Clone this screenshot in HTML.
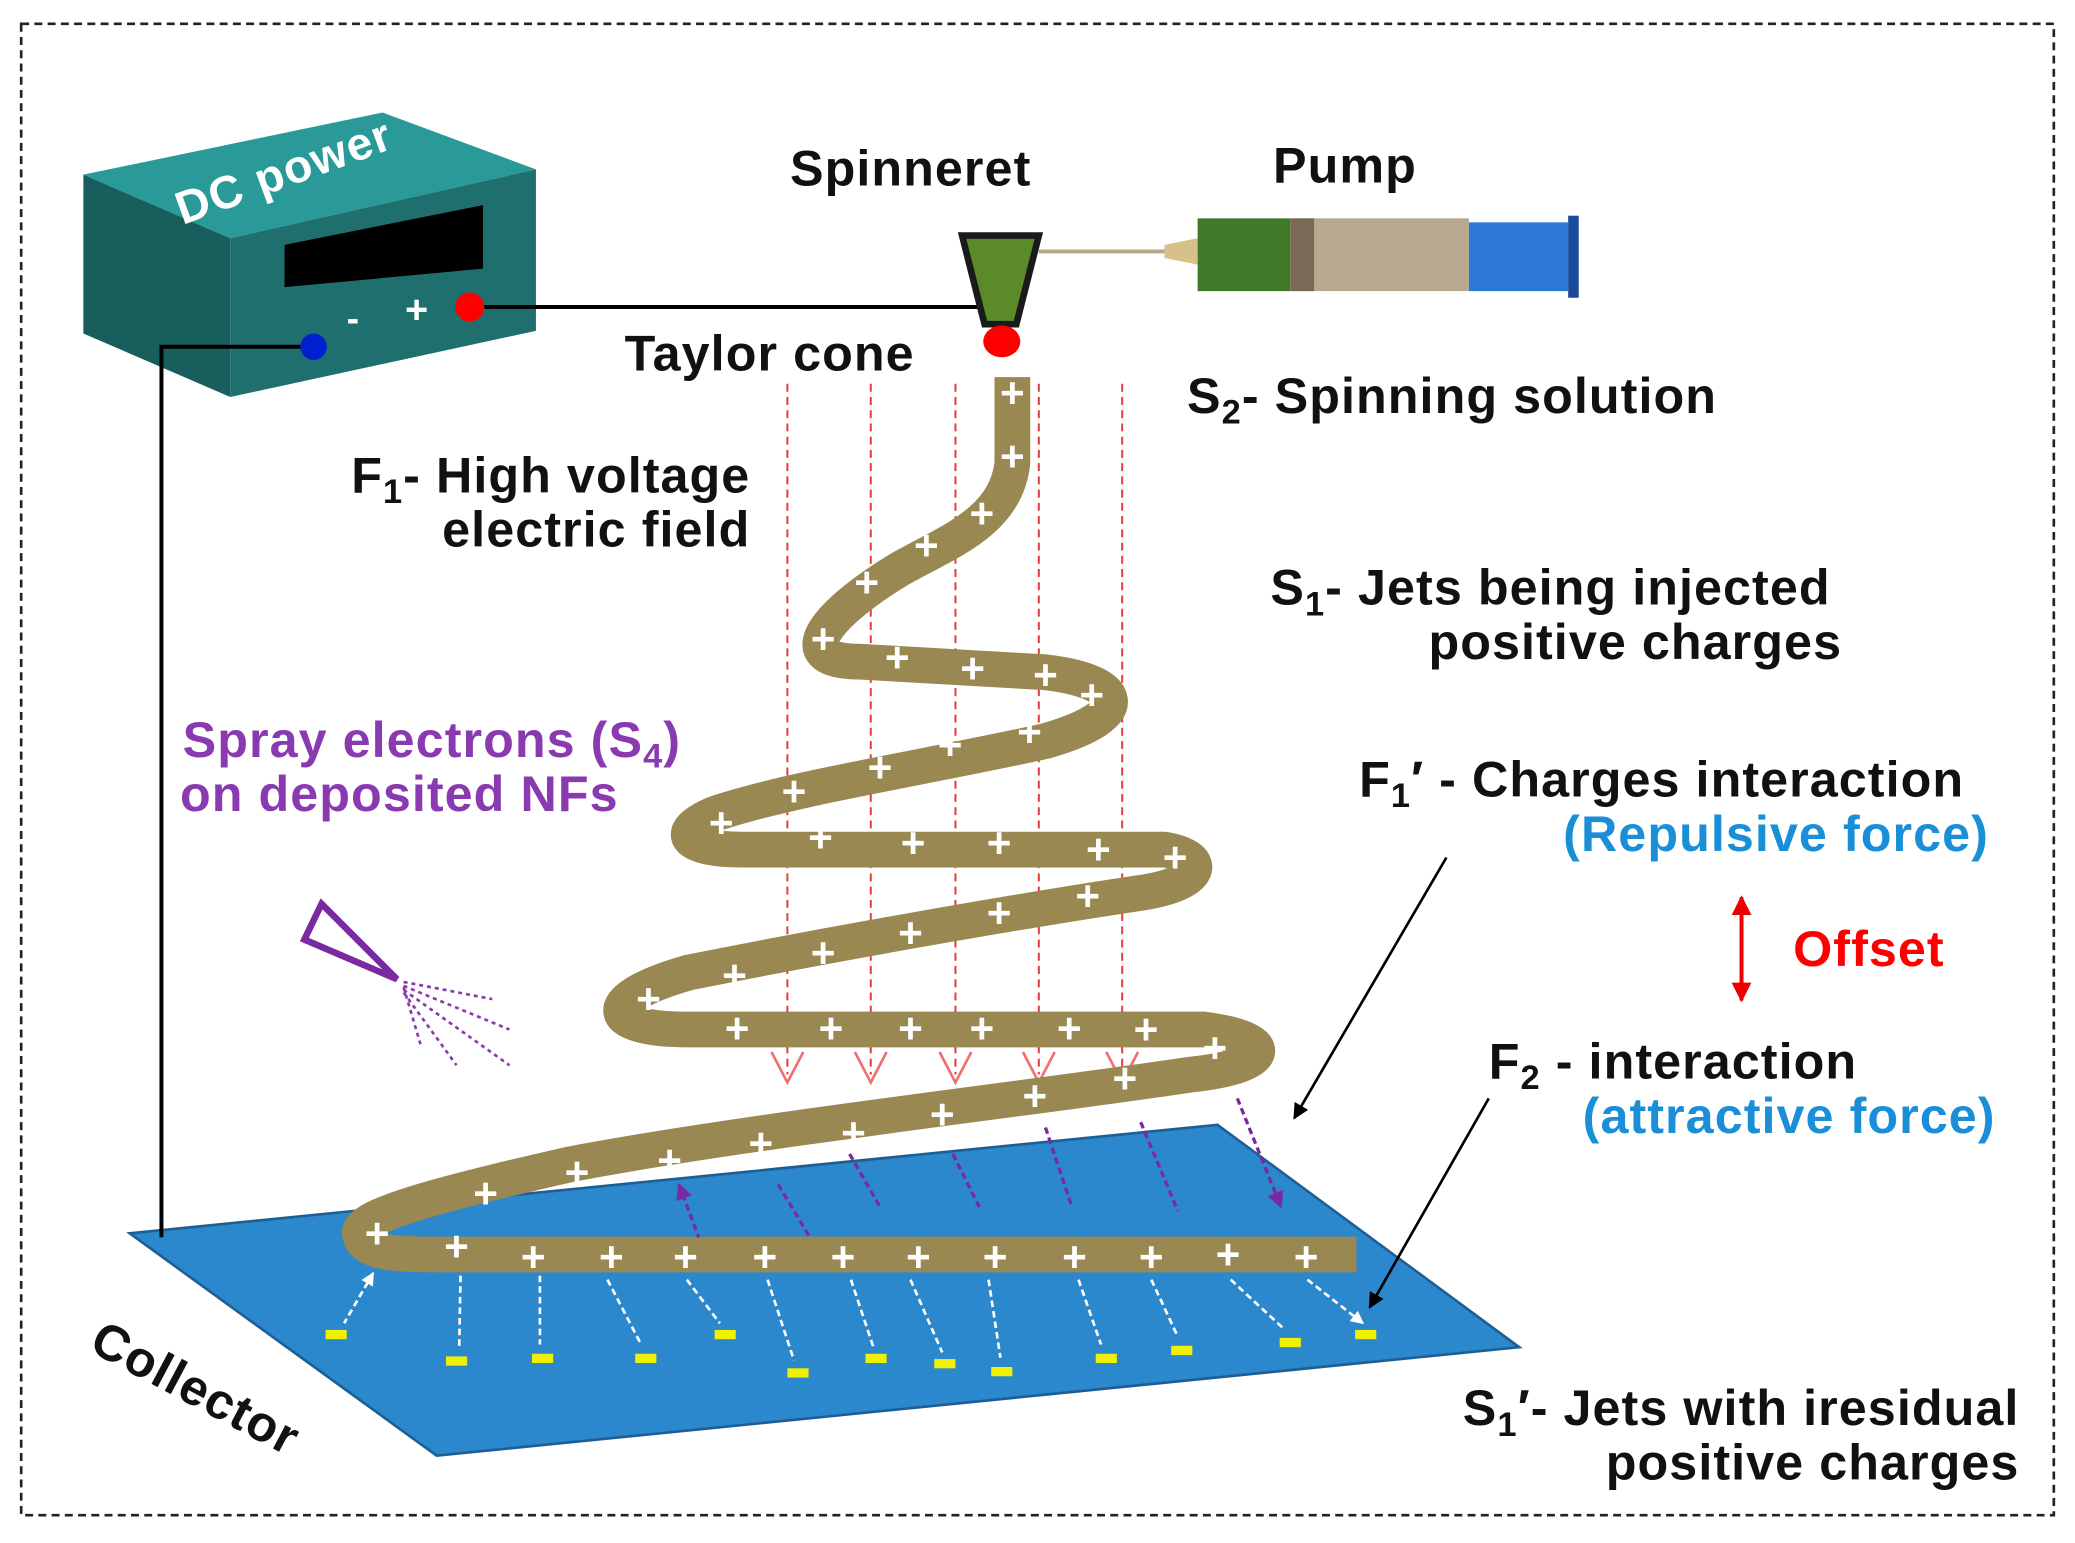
<!DOCTYPE html>
<html><head><meta charset="utf-8"><style>html,body{margin:0;padding:0;background:#fff}svg{display:block}</style></head>
<body>
<svg width="2075" height="1543" viewBox="0 0 1568 1166" preserveAspectRatio="none" xmlns="http://www.w3.org/2000/svg" font-family="Liberation Sans, Arial, sans-serif" font-weight="bold">
<defs>
<marker id="ow" viewBox="0 0 10 10" refX="9" refY="5" markerWidth="5" markerHeight="5" orient="auto-start-reverse"><path d="M0,0L10,5L0,10z" fill="#fff"/></marker>
<marker id="op" viewBox="0 0 10 10" refX="9" refY="5" markerWidth="5" markerHeight="5" orient="auto-start-reverse"><path d="M0,0L10,5L0,10z" fill="#7a2aa0"/></marker>
<marker id="ob" viewBox="0 0 10 10" refX="9" refY="5" markerWidth="6" markerHeight="6" orient="auto"><path d="M0,0L10,5L0,10z" fill="#000"/></marker>
<marker id="or" viewBox="0 0 10 10" refX="9" refY="5" markerWidth="5" markerHeight="5" orient="auto-start-reverse"><path d="M0,0L10,5L0,10z" fill="#e00"/></marker>
</defs>
<rect x="16" y="18" width="1536" height="1127" fill="none" stroke="#222" stroke-width="2" stroke-dasharray="6,4"/>

<polygon points="98,932 920,850 1148,1018 330,1100" fill="#2b88cc" stroke="#1d5f95" stroke-width="2"/>

<polygon points="63,132 289,85 405,128 174,180" fill="#2a9a98"/>
<polygon points="63,132 174,180 174,300 63,252" fill="#175e5d"/>
<polygon points="174,180 405,128 405,250 174,300" fill="#1f6f6e"/>
<polygon points="215,185 365,155 365,203 215,217" fill="#000"/>
<text x="0" y="0" transform="translate(138,170) rotate(-20)" font-size="35" fill="#fff" letter-spacing="1">DC power</text>
<circle cx="237" cy="262" r="10" fill="#0020d0"/>
<circle cx="355" cy="232" r="11" fill="#f00"/>
<text x="262" y="250" font-size="28" fill="#fff">-</text>
<text x="306" y="244" font-size="30" fill="#fff">+</text>
<path d="M366,232H740" stroke="#000" stroke-width="3" fill="none"/>
<path d="M227,262H122V935" stroke="#000" stroke-width="3" fill="none"/>

<path d="M785,190H905" stroke="#b8a888" stroke-width="3"/>
<polygon points="880,185 905,180 905,200 880,195" fill="#d8c08a"/>
<rect x="905" y="165" width="70" height="55" fill="#3f7a2a"/>
<rect x="975" y="165" width="135" height="55" fill="#b8a890"/>
<rect x="975" y="165" width="18" height="55" fill="#7a6a55"/>
<rect x="1110" y="168" width="75" height="52" fill="#2b78d8"/>
<rect x="1185" y="163" width="8" height="62" fill="#1a4a9a"/>
<polygon points="727,178 785,178 768,245 744,245" fill="#5a8a2a" stroke="#1a1a1a" stroke-width="5"/>
<ellipse cx="757" cy="258" rx="14" ry="12" fill="#f00"/>

<g stroke="#e83a3a" stroke-width="1.5" stroke-dasharray="6,4" fill="none">
<path d="M595,290V812M658,290V812M722,290V812M785,290V812M848,290V812"/>
</g>
<g stroke="#f07070" stroke-width="2" fill="none">
<path d="M583,795L595,818L607,795M646,795L658,818L670,795M710,795L722,818L734,795M773,795L785,818L797,795M836,795L848,818L860,795"/>
</g>

<path d="M765,285 L765,350 C760,395 715,410 680,430 C630,460 590,500 650,500 L790,508 C850,515 860,540 790,560 C700,580 600,595 540,615 C505,630 520,642 560,642 L880,642 C915,648 910,668 860,675 C760,690 620,715 520,735 C450,755 455,778 520,778 L910,778 C965,785 965,805 900,812 C780,830 560,855 430,880 C320,905 270,920 272,932 C274,948 300,948 340,948 L1025,948" stroke="#998851" stroke-width="27" fill="none" stroke-linecap="butt" stroke-linejoin="round"/>

<g fill="#fff" font-size="32" text-anchor="middle">
<text x="765" y="308">+</text><text x="765" y="356">+</text><text x="742" y="399">+</text><text x="700" y="423">+</text><text x="655" y="451">+</text><text x="622" y="494">+</text><text x="678" y="508">+</text><text x="735" y="516">+</text><text x="790" y="521">+</text><text x="825" y="536">+</text><text x="778" y="564">+</text><text x="718" y="574">+</text><text x="665" y="591">+</text><text x="600" y="609">+</text><text x="545" y="633">+</text><text x="620" y="644">+</text><text x="690" y="648">+</text><text x="755" y="648">+</text><text x="830" y="653">+</text><text x="888" y="659">+</text><text x="822" y="688">+</text><text x="755" y="701">+</text><text x="688" y="716">+</text><text x="622" y="731">+</text><text x="555" y="748">+</text><text x="490" y="766">+</text><text x="557" y="788">+</text><text x="628" y="788">+</text><text x="688" y="788">+</text><text x="742" y="788">+</text><text x="808" y="788">+</text><text x="866" y="789">+</text><text x="918" y="803">+</text><text x="850" y="826">+</text><text x="782" y="839">+</text><text x="712" y="853">+</text><text x="645" y="867">+</text><text x="575" y="875">+</text><text x="506" y="888">+</text><text x="436" y="897">+</text><text x="367" y="913">+</text><text x="285" y="943">+</text><text x="345" y="953">+</text><text x="403" y="961">+</text><text x="462" y="961">+</text><text x="518" y="961">+</text><text x="578" y="961">+</text><text x="637" y="961">+</text><text x="694" y="961">+</text><text x="752" y="961">+</text><text x="812" y="961">+</text><text x="870" y="961">+</text><text x="928" y="959">+</text><text x="987" y="961">+</text>
</g>

<g fill="#f0f000">
<rect x="246" y="1005" width="16" height="7"/><rect x="337" y="1025" width="16" height="7"/><rect x="402" y="1023" width="16" height="7"/><rect x="480" y="1023" width="16" height="7"/><rect x="540" y="1005" width="16" height="7"/><rect x="595" y="1034" width="16" height="7"/><rect x="654" y="1023" width="16" height="7"/><rect x="706" y="1027" width="16" height="7"/><rect x="749" y="1033" width="16" height="7"/><rect x="828" y="1023" width="16" height="7"/><rect x="885" y="1017" width="16" height="7"/><rect x="967" y="1011" width="16" height="7"/><rect x="1024" y="1005" width="16" height="7"/>
</g>
<g stroke="#fff" stroke-width="2" stroke-dasharray="5,3" marker-start="url(#ow)" marker-end="url(#ow)">
<path d="M282,962L260,1000M348,964L347,1018M408,964L408,1016M459,967L484,1015M519,967L544,1000M580,967L600,1028M643,967L660,1018M688,967L712,1022M747,967L756,1026M815,967L832,1016M870,967L890,1010M930,967L970,1004M988,967L1030,1000"/>
</g>
<g stroke="#7a2aa0" stroke-width="2.5" stroke-dasharray="5,3" marker-start="url(#op)" marker-end="url(#op)">
<path d="M513,895L528,935M588,895L612,935M642,872L665,912M720,872L740,912M790,852L810,912M862,848L890,915M935,830L968,912"/>
</g>

<polygon points="243,683 300,740 230,710" fill="none" stroke="#7a2aa0" stroke-width="5" stroke-linejoin="miter"/>
<g stroke="#8a3ab0" stroke-width="2" stroke-dasharray="3,3">
<path d="M305,742L372,755M305,745L385,778M305,748L385,805M305,750L345,805M305,746L318,790"/>
</g>

<path d="M1093,648L978,845" stroke="#000" stroke-width="2" marker-end="url(#ob)"/>
<path d="M1125,830L1035,988" stroke="#000" stroke-width="2" marker-end="url(#ob)"/>
<path d="M1316,678V756" stroke="#e00" stroke-width="3" marker-start="url(#or)" marker-end="url(#or)"/>

<g font-size="38" fill="#111" letter-spacing="0.8">
<text x="597" y="140">Spinneret</text>
<text x="962" y="138">Pump</text>
<text x="472" y="280">Taylor cone</text>
<text x="897" y="312">S<tspan font-size="26" dy="8">2</tspan><tspan dy="-8">- Spinning solution</tspan></text>
<text x="567" y="372" text-anchor="end">F<tspan font-size="26" dy="8">1</tspan><tspan dy="-8">- High voltage</tspan></text>
<text x="567" y="413" text-anchor="end">electric field</text>
<text x="960" y="457">S<tspan font-size="26" dy="8">1</tspan><tspan dy="-8">- Jets being injected</tspan></text>
<text x="1392" y="498" text-anchor="end">positive charges</text>
<text x="1027" y="602">F<tspan font-size="26" dy="8">1</tspan><tspan dy="-8">′ - Charges interaction</tspan></text>
<text x="1125" y="815">F<tspan font-size="26" dy="8">2</tspan><tspan dy="-8"> - interaction</tspan></text>
<text x="1526" y="1077" text-anchor="end">S<tspan font-size="26" dy="8">1</tspan><tspan dy="-8">′- Jets with iresidual</tspan></text>
<text x="1526" y="1118" text-anchor="end">positive charges</text>
<text transform="translate(66,1020) rotate(28)">Collector</text>
</g>
<g font-size="38" fill="#8a3ab0" letter-spacing="0.8">
<text x="138" y="572">Spray electrons (S<tspan font-size="26" dy="8">4</tspan><tspan dy="-8">)</tspan></text>
<text x="136" y="613">on deposited NFs</text>
</g>
<g font-size="38" fill="#1a8fd8" text-anchor="end" letter-spacing="0.8">
<text x="1503" y="643">(Repulsive force)</text>
<text x="1508" y="856">(attractive force)</text>
</g>
<text x="1355" y="730" font-size="38" fill="#f00" letter-spacing="0.8">Offset</text>
</svg>
</body></html>
